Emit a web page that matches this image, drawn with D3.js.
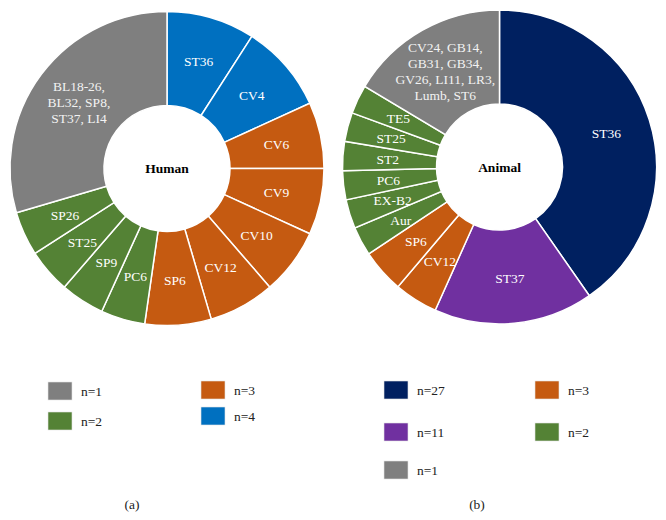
<!DOCTYPE html>
<html>
<head>
<meta charset="utf-8">
<script src="https://cdn.jsdelivr.net/npm/d3@7"></script>
<style>
  body { margin: 0; background: #fff; }
  svg { display: block; }
  svg text { font-family: "Liberation Serif", "Times New Roman", Times, serif; }
</style>
</head>
<body>
<svg id="chart"></svg>
<script>
// Human panel (a)
const humanLabels = ['ST36', 'CV4', 'CV6', 'CV9', 'CV10', 'CV12', 'SP6', 'PC6', 'SP9', 'ST25', 'SP26',
                     'BL18-26,|BL32, SP8,|ST37, LI4'];
const humanValues = [4, 4, 3, 3, 3, 3, 3, 2, 2, 2, 2, 13];
const humanGroups = ['n=4', 'n=4', 'n=3', 'n=3', 'n=3', 'n=3', 'n=3', 'n=2', 'n=2', 'n=2', 'n=2', 'n=1'];

// Animal panel (b)
const animalLabels = ['ST36', 'ST37', 'CV12', 'SP6', 'Aur', 'EX-B2', 'PC6', 'ST2', 'ST25', 'TE5',
                      'CV24, GB14,|GB31, GB34,|GV26, LI11, LR3,|Lumb, ST6'];
const animalValues = [27, 11, 3, 3, 2, 2, 2, 2, 2, 2, 11];
const animalGroups = ['n=27', 'n=11', 'n=3', 'n=3', 'n=2', 'n=2', 'n=2', 'n=2', 'n=2', 'n=2', 'n=1'];

const legendA = ['n=1', 'n=2', 'n=3', 'n=4'];
const legendB = ['n=27', 'n=11', 'n=1', 'n=3', 'n=2'];

const colors = {
  'n=1': '#7f7f7f',
  'n=2': '#548235',
  'n=3': '#c55a11',
  'n=4': '#0070c0',
  'n=27': '#002060',
  'n=11': '#7030a0'
};

const W = 666, H = 520;
const FONT = '"Liberation Serif", "Times New Roman", Times, serif';
const svg = d3.select('#chart').attr('width', W).attr('height', H);

const inner = 63, outer = 157;
const arc = d3.arc().innerRadius(inner).outerRadius(outer);
const labelArc = d3.arc().innerRadius(112).outerRadius(112);
const pie = d3.pie().sort(null).value(d => d.value);

function donut(cx, cy, labels, values, groups, title) {
  const data = labels.map((l, i) => ({ label: l, value: values[i], group: groups[i] }));
  const g = svg.append('g').attr('transform', `translate(${cx},${cy})`);

  g.selectAll('path')
   .data(pie(data))
   .enter()
   .append('path')
   .attr('d', arc)
   .attr('fill', d => colors[d.data.group])
   .attr('stroke', '#fff')
   .attr('stroke-width', 1.5);

  const txt = g.selectAll('text.lbl')
   .data(pie(data))
   .enter()
   .append('text')
   .attr('class', 'lbl')
   .attr('font-family', FONT)
   .attr('fill', d => d.data.group === 'n=1' ? '#f2f2f2' : '#fff')
   .attr('font-size', 13.5)
   .attr('text-anchor', 'middle')
   .attr('transform', d => {
     const c = d.data.label.includes('|') ? arc.centroid(d) : labelArc.centroid(d);
     return `translate(${c[0]},${c[1]})`;
   });

  txt.each(function(d) {
    const lines = d.data.label.split('|');
    const t = d3.select(this);
    lines.forEach((line, i) => {
      t.append('tspan')
       .attr('x', 0)
       .attr('y', (i - (lines.length - 1) / 2) * 16)
       .attr('dy', '0.35em')
       .text(line);
    });
  });

  g.append('text')
   .attr('text-anchor', 'middle')
   .attr('dy', '0.35em')
   .attr('font-family', FONT)
   .attr('font-size', 13.5)
   .attr('font-weight', 'bold')
   .attr('fill', '#000')
   .text(title);
}

donut(167, 168.5, humanLabels, humanValues, humanGroups, 'Human');
donut(499.5, 167, animalLabels, animalValues, animalGroups, 'Animal');

// legends
function legend(items, positions) {
  items.forEach((name, i) => {
    const [x, y] = positions[i];
    svg.append('rect')
       .attr('x', x).attr('y', y)
       .attr('width', 24).attr('height', 18)
       .attr('fill', colors[name])
       .attr('stroke', '#e4e4e4')
       .attr('stroke-width', 0.6);
    svg.append('text')
       .attr('x', x + 33).attr('y', y + 9)
       .attr('dy', '0.35em')
       .attr('font-family', FONT)
       .attr('font-size', 13.5)
       .attr('fill', '#222')
       .text(name);
  });
}

legend(legendA, [[48, 382], [48, 412], [201, 381], [201, 407]]);
legend(legendB, [[384, 381], [384, 423], [384, 461], [535, 381], [535, 423]]);

// captions
svg.append('text').attr('x', 132).attr('y', 509).attr('text-anchor', 'middle')
   .attr('font-family', FONT).attr('font-size', 13.5).attr('fill', '#222').text('(a)');
svg.append('text').attr('x', 477).attr('y', 509).attr('text-anchor', 'middle')
   .attr('font-family', FONT).attr('font-size', 13.5).attr('fill', '#222').text('(b)');
</script>
</body>
</html>
